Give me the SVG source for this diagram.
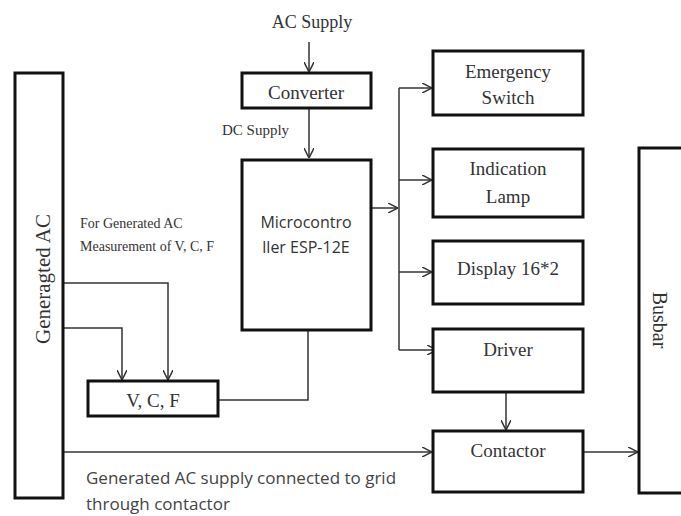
<svg xmlns="http://www.w3.org/2000/svg" width="681" height="516" viewBox="0 0 681 516">
<style>
.box{fill:#fff;stroke:#111;stroke-width:3}
.ln{fill:none;stroke:#333;stroke-width:1.5}
.t{font-family:"Liberation Serif",serif;font-size:19px;fill:#333;text-anchor:middle}
.s{font-family:"Open Sans","Liberation Sans",sans-serif;font-size:16px;fill:#333;text-anchor:middle}
.sm{font-family:"Liberation Serif",serif;font-size:14px;fill:#333}
.b{font-family:"Open Sans","Liberation Sans",sans-serif;font-size:17px;fill:#444}
</style>
<defs>
<marker id="a" viewBox="0 0 10 10" refX="10" refY="5" markerWidth="10" markerHeight="10" markerUnits="userSpaceOnUse" orient="auto">
<path d="M0,0 L10,5 L0,10" fill="none" stroke="#333" stroke-width="1.5"/>
</marker>
</defs>
<rect width="681" height="516" fill="#fff"/>
<g id="connectors">
<path class="ln" d="M309,42 V72" marker-end="url(#a)"/>
<path class="ln" d="M309,108 V158" marker-end="url(#a)"/>
<path class="ln" d="M371,208 H398" marker-end="url(#a)"/>
<path class="ln" d="M399,88 V350"/>
<path class="ln" d="M399,88 H432" marker-end="url(#a)"/>
<path class="ln" d="M399,180 H432" marker-end="url(#a)"/>
<path class="ln" d="M399,272 H432" marker-end="url(#a)"/>
<path class="ln" d="M399,350 H437" marker-end="url(#a)"/>
<path class="ln" d="M506,392 V430" marker-end="url(#a)"/>
<path class="ln" d="M583,452 H638" marker-end="url(#a)"/>
<path class="ln" d="M63,452 H432" marker-end="url(#a)"/>
<path class="ln" d="M63,283 H168 V380" marker-end="url(#a)"/>
<path class="ln" d="M63,328 H122 V380" marker-end="url(#a)"/>
<path class="ln" d="M308,330 V400 H218"/>
</g>
<text class="t" x="312" y="28" style="font-size:18px">AC Supply</text>
<text class="sm" x="222" y="135" style="font-size:15px">DC Supply</text>
<text class="sm" x="80" y="228">For Generated AC</text>
<text class="sm" x="80" y="251">Measurement of V, C, F</text>
<text class="b" x="86" y="484">Generated AC supply connected to grid</text>
<text class="b" x="86" y="510">through contactor</text>
<g id="generated-ac">
<rect class="box" x="15" y="73" width="48" height="425"/>
<text class="t" transform="translate(50,279) rotate(-90)" style="font-size:21px">Generagted AC</text>
</g>
<g id="converter">
<rect class="box" x="242" y="73" width="129" height="35"/>
<text class="t" x="306" y="99">Converter</text>
</g>
<g id="microcontroller">
<rect class="box" x="242" y="160" width="129" height="170"/>
<text class="s" x="306" y="228">Microcontro</text>
<text class="s" x="306" y="253">ller ESP-12E</text>
</g>
<g id="vcf">
<rect class="box" x="88" y="381" width="130" height="35"/>
<text class="t" x="153" y="407">V, C, F</text>
</g>
<g id="emergency">
<rect class="box" x="433" y="51" width="150" height="64"/>
<text class="t" x="508" y="78">Emergency</text>
<text class="t" x="508" y="104">Switch</text>
</g>
<g id="indication">
<rect class="box" x="433" y="149" width="150" height="68"/>
<text class="t" x="508" y="175">Indication</text>
<text class="t" x="508" y="203">Lamp</text>
</g>
<g id="display">
<rect class="box" x="433" y="241" width="150" height="63"/>
<text class="t" x="508" y="275">Display 16*2</text>
</g>
<g id="driver">
<rect class="box" x="433" y="329" width="150" height="63"/>
<text class="t" x="508" y="356">Driver</text>
</g>
<g id="contactor">
<rect class="box" x="433" y="431" width="150" height="61"/>
<text class="t" x="508" y="457">Contactor</text>
</g>
<g id="busbar">
<rect class="box" x="639" y="148" width="60" height="345"/>
<text class="t" transform="translate(653,320) rotate(90)" style="font-size:20px">Busbar</text>
</g>
</svg>
